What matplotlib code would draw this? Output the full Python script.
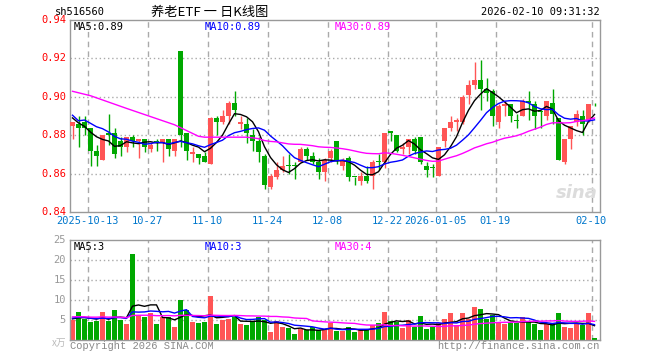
import numpy as np
import pandas as pd
import matplotlib
matplotlib.use('Agg')
import matplotlib.pyplot as plt

# daily OHLC, 2025-09-30 .. 2026-02-10 (88 sessions)
opens = [0.885, 0.886, 0.887, 0.884, 0.872, 0.867, 0.881, 0.881, 0.877, 0.874,
         0.879, 0.877, 0.878, 0.873, 0.877, 0.876, 0.878, 0.872, 0.924, 0.881,
         0.870, 0.870, 0.869, 0.865, 0.889, 0.887, 0.890, 0.897, 0.886, 0.886,
         0.880, 0.877, 0.869, 0.853, 0.858, 0.862, 0.864, 0.864, 0.866, 0.873,
         0.869, 0.866, 0.861, 0.868, 0.877, 0.864, 0.868, 0.858, 0.856, 0.859,
         0.859, 0.866, 0.866, 0.882, 0.880, 0.873, 0.874, 0.878, 0.879, 0.864,
         0.863, 0.859, 0.877, 0.884, 0.887, 0.887, 0.901, 0.906, 0.909, 0.904,
         0.903, 0.887, 0.895, 0.896, 0.8875, 0.890, 0.898, 0.896, 0.892, 0.890,
         0.897, 0.889, 0.866, 0.878, 0.887, 0.890, 0.888, 0.896]
closes = [0.887, 0.884, 0.884, 0.872, 0.869, 0.880, 0.880, 0.870, 0.874, 0.879,
          0.877, 0.878, 0.874, 0.875, 0.876, 0.878, 0.873, 0.878, 0.880, 0.872,
          0.871, 0.868, 0.866, 0.889, 0.887, 0.890, 0.897, 0.893, 0.887, 0.881,
          0.877, 0.871, 0.854, 0.859, 0.862, 0.864, 0.864, 0.864, 0.873, 0.869,
          0.866, 0.861, 0.867, 0.872, 0.867, 0.867, 0.858, 0.858, 0.859, 0.856,
          0.866, 0.866, 0.881, 0.881, 0.872, 0.874, 0.878, 0.872, 0.866, 0.862,
          0.863, 0.874, 0.884, 0.887, 0.888, 0.900, 0.906, 0.909, 0.904, 0.902,
          0.890, 0.895, 0.896, 0.890, 0.8875, 0.898, 0.897, 0.890, 0.892, 0.898,
          0.891, 0.867, 0.878, 0.885, 0.891, 0.886, 0.896, 0.896]
highs = [0.887, 0.890, 0.890, 0.884, 0.875, 0.880, 0.891, 0.884, 0.879, 0.879,
         0.880, 0.878, 0.878, 0.876, 0.878, 0.878, 0.878, 0.878, 0.924, 0.881,
         0.874, 0.870, 0.871, 0.8895, 0.890, 0.893, 0.898, 0.903, 0.890, 0.889,
         0.883, 0.879, 0.870, 0.860, 0.866, 0.869, 0.870, 0.866, 0.874, 0.874,
         0.871, 0.868, 0.868, 0.873, 0.877, 0.868, 0.869, 0.858, 0.861, 0.864,
         0.867, 0.870, 0.881, 0.882, 0.880, 0.876, 0.878, 0.879, 0.879, 0.866,
         0.865, 0.874, 0.884, 0.890, 0.889, 0.901, 0.909, 0.918, 0.919, 0.910,
         0.904, 0.896, 0.898, 0.896, 0.891, 0.899, 0.903, 0.898, 0.893, 0.898,
         0.904, 0.889, 0.878, 0.885, 0.893, 0.893, 0.896, 0.897]
lows = [0.878, 0.874, 0.880, 0.864, 0.864, 0.867, 0.875, 0.868, 0.869, 0.871,
        0.874, 0.868, 0.871, 0.871, 0.872, 0.866, 0.869, 0.869, 0.874, 0.867,
        0.866, 0.865, 0.866, 0.865, 0.880, 0.886, 0.886, 0.890, 0.883, 0.876,
        0.872, 0.866, 0.852, 0.852, 0.857, 0.861, 0.860, 0.857, 0.866, 0.867,
        0.865, 0.857, 0.856, 0.866, 0.865, 0.862, 0.856, 0.854, 0.854, 0.855,
        0.852, 0.862, 0.863, 0.877, 0.871, 0.870, 0.870, 0.870, 0.865, 0.858,
        0.858, 0.859, 0.874, 0.882, 0.882, 0.886, 0.896, 0.904, 0.893, 0.898,
        0.885, 0.884, 0.890, 0.887, 0.884, 0.890, 0.888, 0.883, 0.884, 0.888,
        0.886, 0.867, 0.865, 0.873, 0.885, 0.880, 0.887, 0.895]
# volume, in 10k lots
volumes = [4.9, 6.9, 5.2, 4.4, 4.7, 6.9, 4.7, 7.4, 4.9, 3.9,
           21.4, 6.2, 5.7, 6.7, 3.9, 5.7, 5.7, 3.2, 9.9, 7.4,
           4.4, 4.2, 4.4, 10.9, 3.9, 4.9, 5.2, 5.7, 3.9, 3.7,
           4.7, 5.7, 4.9, 1.9, 4.7, 3.2, 2.9, 1.4, 2.7, 2.4,
           3.2, 2.4, 2.4, 4.2, 2.2, 2.2, 3.2, 1.9, 2.7, 2.4,
           3.7, 4.2, 6.9, 4.7, 4.4, 2.9, 4.9, 3.2, 5.9, 2.7,
           3.2, 4.2, 5.2, 6.7, 3.7, 6.7, 5.2, 8.2, 7.7, 5.2,
           6.2, 4.4, 3.9, 4.2, 4.2, 5.7, 4.4, 3.9, 2.4, 3.9,
           4.2, 6.7, 3.2, 2.9, 4.2, 3.7, 6.7, 0.4]
# sessions before the window (needed for the moving averages)
prior_closes = [0.907, 0.907, 0.895, 0.902, 0.913, 0.913, 0.903, 0.907, 0.912,
                0.909, 0.910, 0.906, 0.907, 0.908, 0.910, 0.905, 0.910,
                0.925, 0.917, 0.916, 0.913,
                0.880, 0.889, 0.887, 0.890, 0.897, 0.893, 0.887, 0.881]
prior_volumes = [5.5, 6.2, 7.1, 5.0, 4.8, 6.6, 5.9, 7.8, 6.3, 5.1, 4.6, 5.4, 6.8, 7.2,
                 5.6, 4.9, 5.3, 6.1, 6.9, 5.8, 5.0, 5.7, 6.4, 5.5, 5.9, 5.6, 4.8, 5.2, 5.9]

tick_idx = [3, 13, 23, 33, 43, 53, 61, 71, 87]
tick_labels = ['2025-10-13', '10-27', '11-10', '11-24', '12-08', '12-22',
               '2026-01-05', '01-19', '02-10']

RED = '#ff5555'
GREEN = '#00a800'
GRID = '#aaaaaa'
MONO = 'DejaVu Sans Mono'

n = len(closes)
x = np.arange(n)
o = np.array(opens); c = np.array(closes); h = np.array(highs); l = np.array(lows)
up = c > o
cols = np.where(up, RED, GREEN)

cs = pd.Series(prior_closes + closes)
vs = pd.Series(prior_volumes + volumes)
ma = {k: cs.rolling(k).mean().values[-n:] for k in (5, 10, 30)}
vma = {k: vs.rolling(k).mean().values[-n:] for k in (5, 10, 30)}

W, H = 660, 360
fig = plt.figure(figsize=(6.6, 3.6), dpi=100)

def px(l, t, r, b):
    return [l / W, 1 - b / H, (r - l) / W, (b - t) / H]

ax = fig.add_axes(px(70, 20, 600, 212))
axv = fig.add_axes(px(70, 240, 600, 340))

xmin, xmax = -2.5 / 6, 527.5 / 6
for a in (ax, axv):
    a.set_xlim(xmin, xmax)
    for s in a.spines.values():
        s.set_color('#999999')
        s.set_linewidth(1)
    a.set_xticks([])
    for t in tick_idx:
        a.axvline(t - 0.5, color=GRID, lw=1, ls=(0, (4, 3)), zorder=0)

# price pane
ax.set_ylim(0.84, 0.94)
ax.set_yticks([])
for yv in (0.92, 0.90, 0.88, 0.86):
    ax.axhline(yv, color=GRID, lw=1, ls=(0, (1, 2)), zorder=0)
ax.vlines(x, l, h, colors=cols, lw=1, zorder=2)
body = np.maximum(np.abs(c - o), 0.0005)
ax.bar(x, body, bottom=np.minimum(o, c), width=0.8, color=cols, lw=0, zorder=3)
ax.plot(x, ma[5], color='black', lw=1, zorder=4)
ax.plot(x, ma[10], color='#0000ff', lw=1, zorder=4)
ax.plot(x, ma[30], color='#ff00ff', lw=1, zorder=4)
ax.text(0.995, 0.1, 'sina', transform=ax.transAxes, ha='right', va='center',
        fontsize=13, fontstyle='italic', fontweight='bold', color='#dcdcdc', zorder=1)

# volume pane
axv.set_ylim(0, 25)
axv.set_yticks([])
for yv in (5, 10, 15, 20):
    axv.axhline(yv, color=GRID, lw=1, ls=(0, (1, 2)), zorder=0)
axv.bar(x, volumes, width=0.8, color=cols, lw=0, zorder=2)
axv.plot(x, vma[5], color='black', lw=1, zorder=4)
axv.plot(x, vma[10], color='#0000ff', lw=1, zorder=4)
axv.plot(x, vma[30], color='#ff00ff', lw=1, zorder=4)

def ftext(xp, yp, s, **kw):
    fig.text(xp / W, 1 - yp / H, s, **kw)

# price axis labels
for yv in (0.94, 0.92, 0.90, 0.88, 0.86, 0.84):
    yp = 212 - (yv - 0.84) / 0.10 * 192
    ftext(66, yp, f'{yv:.2f}', ha='right', va='center', color='red', family=MONO, fontsize=7.5)
for yv in (25, 20, 15, 10, 5):
    yp = 340 - yv / 25 * 100
    ftext(66, yp, str(yv), ha='right', va='center', color='#999999', family=MONO, fontsize=7.5)
ftext(66, 343, 'x万', ha='right', va='center', color='#bbbbbb',
      family=['Noto Sans CJK SC', 'DejaVu Sans'], fontsize=7)

# date labels
for t, lab in zip(tick_idx, tick_labels):
    xp = 70 + (t - 0.5 - xmin) * 6
    ftext(xp, 221, lab, ha='center', va='center', color='#0077cc', family=MONO, fontsize=7.5)

# header
ftext(55, 12, 'sh516560', ha='left', va='center', color='black', family=MONO, fontsize=7.5)
ftext(210, 12, '养老ETF 一 日K线图', ha='center', va='center', color='black',
      family=['Noto Sans CJK SC', 'DejaVu Sans'], fontsize=9.5)
ftext(600, 12, '2026-02-10 09:31:32', ha='right', va='center', color='black', family=MONO, fontsize=7.5)

# MA legends (volume values are truncated like the source)
last = n - 1
ftext(74, 27, f'MA5:{ma[5][last]:.2f}', ha='left', va='center', color='black', family=MONO, fontsize=7.5)
ftext(205, 27, f'MA10:{ma[10][last]:.2f}', ha='left', va='center', color='#0000ff', family=MONO, fontsize=7.5)
ftext(335, 27, f'MA30:{ma[30][last]:.2f}', ha='left', va='center', color='#ff00ff', family=MONO, fontsize=7.5)
ftext(74, 247, f'MA5:{int(vma[5][last])}', ha='left', va='center', color='black', family=MONO, fontsize=7.5)
ftext(205, 247, f'MA10:{int(vma[10][last])}', ha='left', va='center', color='#0000ff', family=MONO, fontsize=7.5)
ftext(335, 247, f'MA30:{int(vma[30][last])}', ha='left', va='center', color='#ff00ff', family=MONO, fontsize=7.5)

# footer
ftext(70, 346, 'Copyright 2026 SINA.COM', ha='left', va='center', color='#888888',
      family='Liberation Mono', fontsize=7.5)
ftext(600, 346, 'http://finance.sina.com.cn', ha='right', va='center', color='#888888',
      family='Liberation Mono', fontsize=7.5)

fig.savefig('out.png', dpi=100)
